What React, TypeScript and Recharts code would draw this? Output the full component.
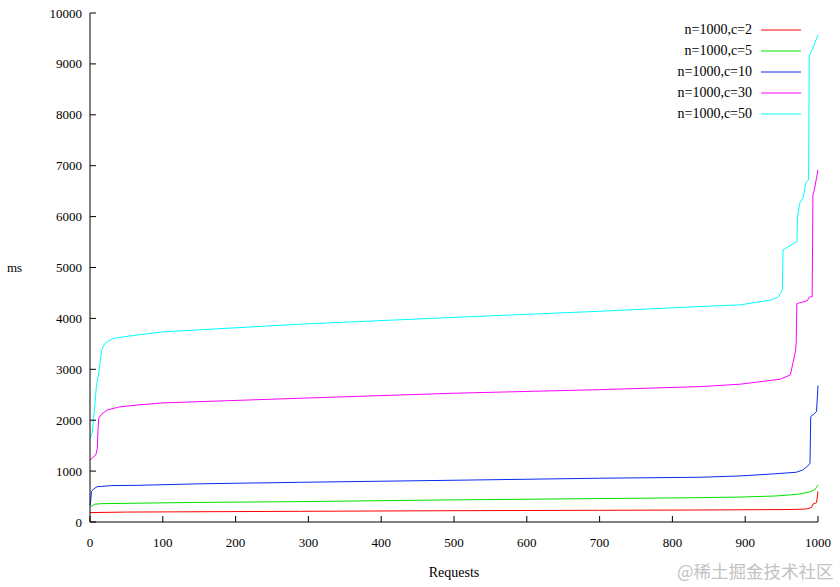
import React from "react";
import { LineChart, Line, XAxis, YAxis, Legend } from "recharts";

// request index -> response time (ms)
const c2: [number, number][] = [
  [0, 185], [50, 195], [288, 210], [500, 222], [700, 230], [838, 236], [960, 245],
  [984, 255], [991, 285], [993, 350], [998, 380], [1000, 600],
];
const c5: [number, number][] = [
  [0, 290], [2, 310], [6, 348], [15, 360], [66, 370], [150, 385], [288, 400], [500, 435],
  [700, 460], [838, 478], [893, 490], [940, 510], [961, 531], [975, 550], [984, 576],
  [990, 600], [995, 629], [998, 680], [1000, 727],
];
const c10: [number, number][] = [
  [0, 330], [1, 420], [2, 596], [5, 650], [10, 694], [30, 715], [66, 721], [150, 750],
  [288, 780], [500, 820], [700, 860], [838, 879], [893, 905], [938, 944], [970, 977],
  [979, 1022], [986, 1101], [989, 1154], [990, 2070], [995, 2130], [998, 2170], [1000, 2680],
];
const c30: [number, number][] = [
  [0, 1219], [4, 1270], [8, 1317], [10, 1450], [11, 1800], [12, 2038], [16, 2120],
  [24, 2202], [40, 2260], [66, 2300], [100, 2340], [288, 2431], [500, 2530], [700, 2600],
  [838, 2660], [893, 2707], [948, 2805], [962, 2890], [966, 3150], [969, 3350], [970, 3500],
  [971, 4290], [973, 4299], [985, 4344], [988, 4417], [992, 4429], [993, 6428], [995, 6526],
  [1000, 6920],
];
const c50: [number, number][] = [
  [0, 1645], [3, 1744], [6, 2200], [9, 2700], [12, 2923], [16, 3381], [20, 3500],
  [24, 3544], [33, 3611], [66, 3676], [100, 3735], [288, 3886], [500, 4020], [700, 4140],
  [838, 4233], [893, 4266], [937, 4364], [946, 4429], [951, 4561], [952, 5347], [971, 5510],
  [972, 6002], [975, 6265], [980, 6395], [983, 6658], [987, 6723], [988, 9147], [993, 9312],
  [1000, 9573],
];

const seriesNames = ["n=1000,c=2", "n=1000,c=5", "n=1000,c=10", "n=1000,c=30", "n=1000,c=50"];
const seriesColors = ["#ff0000", "#00e000", "#0a2cf0", "#ff00ff", "#00ffff"];
const seriesData = [c2, c5, c10, c30, c50];

const xTicks = [0, 100, 200, 300, 400, 500, 600, 700, 800, 900, 1000];
const yTicks = [0, 1000, 2000, 3000, 4000, 5000, 6000, 7000, 8000, 9000, 10000];

const FONT = '"Liberation Serif", "Times New Roman", serif';

// gnuplot style ticks: drawn inward from the border
const BottomTick = ({ x, y, payload }: any) => (
  <g>
    <line x1={x} x2={x} y1={y} y2={y - 6} stroke="#000" />
    <text x={x} y={y + 25} textAnchor="middle" fontSize={13} fontFamily={FONT} fill="#000">
      {payload.value}
    </text>
  </g>
);
const TopTick = ({ x, y }: any) => <line x1={x} x2={x} y1={y} y2={y + 6} stroke="#000" />;
const LeftTick = ({ x, y, payload }: any) => (
  <g>
    <line x1={x} x2={x + 6} y1={y} y2={y} stroke="#000" />
    <text x={x - 8} y={y + 4.5} textAnchor="end" fontSize={13} fontFamily={FONT} fill="#000">
      {payload.value}
    </text>
  </g>
);
const RightTick = ({ x, y }: any) => <line x1={x} x2={x - 6} y1={y} y2={y} stroke="#000" />;

const LegendBox = () => (
  <div style={{ fontFamily: FONT, fontSize: 14, color: "#000" }}>
    {seriesNames.map((name, i) => (
      <div key={name} style={{ display: "flex", alignItems: "center", height: 20.8 }}>
        <span style={{ width: 150, textAlign: "right" }}>{name}</span>
        <svg width={40} height={4} style={{ marginLeft: 9 }}>
          <line x1={0} x2={40} y1={2} y2={2} stroke={seriesColors[i]} strokeWidth={1} />
        </svg>
      </div>
    ))}
  </div>
);

export default function App() {
  return (
    <div style={{ position: "absolute", left: 0, top: 0, width: 840, height: 587, background: "#fff", overflow: "hidden" }}>
      <LineChart width={840} height={587} margin={{ top: 13, right: 22, left: 0, bottom: 0 }}>
        <XAxis
          dataKey="req"
          type="number"
          domain={[0, 1000]}
          ticks={xTicks}
          height={65}
          tickSize={0}
          tickMargin={0}
          tickLine={false}
          axisLine={{ stroke: "#000" }}
          tick={<BottomTick />}
          interval={0}
          label={{ value: "Requests", position: "insideBottom", offset: 10, fontSize: 14, fontFamily: FONT, fill: "#000" }}
        />
        <XAxis
          xAxisId="top"
          orientation="top"
          dataKey="req"
          type="number"
          domain={[0, 1000]}
          ticks={xTicks}
          height={0}
          tickSize={0}
          tickMargin={0}
          tickLine={false}
          axisLine={{ stroke: "#000" }}
          tick={<TopTick />}
          interval={0}
        />
        <YAxis
          type="number"
          domain={[0, 10000]}
          ticks={yTicks}
          width={90}
          tickSize={0}
          tickMargin={0}
          tickLine={false}
          axisLine={{ stroke: "#000" }}
          tick={<LeftTick />}
          interval={0}
          label={{ value: "ms", position: "insideLeft", offset: 7, fontSize: 13, fontFamily: FONT, fill: "#000" }}
        />
        <YAxis
          yAxisId="right"
          orientation="right"
          type="number"
          domain={[0, 10000]}
          ticks={yTicks}
          width={0}
          tickSize={0}
          tickMargin={0}
          tickLine={false}
          axisLine={{ stroke: "#000" }}
          tick={<RightTick />}
          interval={0}
        />
        {seriesData.map((pts, i) => (
          <Line
            key={seriesNames[i]}
            name={seriesNames[i]}
            data={pts.map(([req, ms]) => ({ req, ms }))}
            dataKey="ms"
            type="linear"
            stroke={seriesColors[i]}
            strokeWidth={1}
            dot={false}
            activeDot={false}
            isAnimationActive={false}
          />
        ))}
        <Legend
          layout="vertical"
          align="center"
          verticalAlign="middle"
          content={<LegendBox />}
          wrapperStyle={{ top: 20, left: 602, right: "auto", bottom: "auto", width: 200 }}
        />
      </LineChart>
      <div
        style={{
          position: "absolute",
          left: 677,
          top: 561,
          fontSize: 17.5,
          lineHeight: "20px",
          color: "#c2c2c2",
          fontFamily: '"Noto Sans CJK SC", sans-serif',
          whiteSpace: "nowrap",
        }}
      >
        @稀土掘金技术社区
      </div>
    </div>
  );
}
